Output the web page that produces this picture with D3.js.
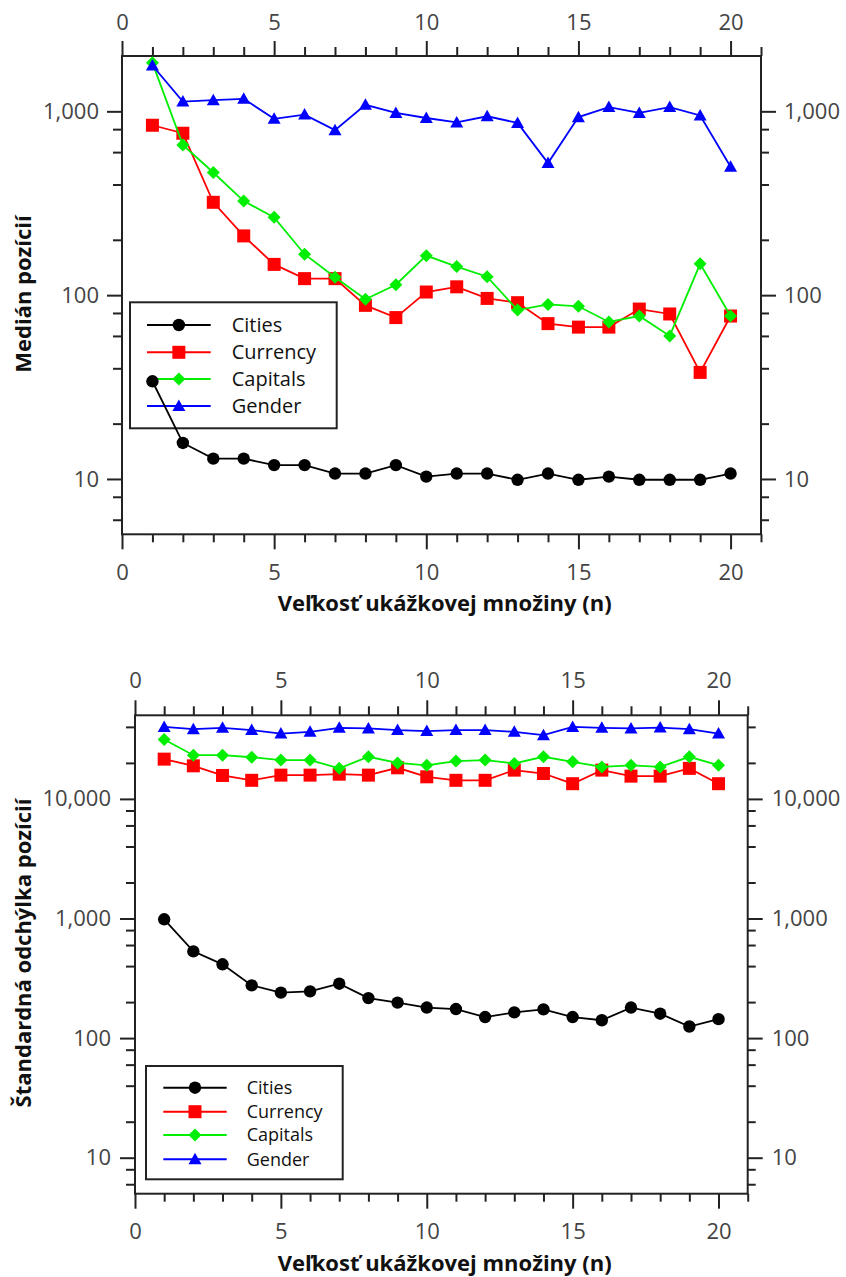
<!DOCTYPE html>
<html>
<head>
<meta charset="utf-8">
<script src="https://cdn.jsdelivr.net/npm/d3@7"></script>
<style>
  body { margin: 0; background: #fff; }
  svg { display: block; font-family: "Open Sans", sans-serif; }
</style>
</head>
<body>
<script>
// sample size n
const n = d3.range(1, 21)

const series = ['Cities', 'Currency', 'Capitals', 'Gender']
const colors = ['#000000', '#ff0000', '#00ee00', '#0000ff']
const shapes = ['circle', 'square', 'diamond', 'triangle']

// median position (top chart)
const medCities = [34, 15.7, 12.9, 12.9, 11.9, 11.9, 10.7, 10.7, 11.9, 10.3, 10.7, 10.7, 9.9, 10.7, 9.9, 10.3, 9.9, 9.9, 9.9, 10.7]
const medCurrency = [840, 760, 320, 210, 147, 123, 123, 88, 75.5, 104, 111, 96, 91, 70, 67, 67, 84, 79, 38, 77]
const medCapitals = [1835, 656, 465, 325, 265, 167, 125, 95, 114, 164, 143, 126, 83, 89, 87, 71.5, 77, 60, 148, 77]
const medGender = [1775, 1130, 1150, 1170, 910, 960, 790, 1085, 980, 920, 870, 940, 865, 523, 930, 1055, 980, 1055, 950, 500]

// standard deviation of position (bottom chart)
const sdCities = [985, 531, 414, 276, 240, 246, 285, 216, 198, 180, 175, 150, 164, 174, 150, 141, 180, 160, 125, 144]
const sdCurrency = [21500, 18900, 15700, 14300, 15800, 15800, 16100, 15800, 18200, 15300, 14300, 14300, 17400, 16300, 13400, 17400, 15500, 15500, 18000, 13400]
const sdCapitals = [31400, 23200, 23200, 22300, 21100, 21100, 18000, 22500, 20000, 19100, 20700, 21100, 19800, 22500, 20400, 18500, 19100, 18500, 22500, 19100]
const sdGender = [40000, 38300, 39300, 37600, 35200, 36400, 39300, 38800, 37600, 36900, 37600, 37600, 36400, 34100, 40000, 39300, 38800, 39500, 38300, 35200]

const xMajor = [0, 5, 10, 15, 20]
const xMinor = d3.range(1, 22).filter(d => d % 5 !== 0)

const svg = d3.select('body').append('svg')
    .attr('width', 846)
    .attr('height', 1277)

function marker(sel, shape, color) {
    if (shape === 'circle') {
        sel.append('circle').attr('r', 6.2).attr('fill', color)
    } else if (shape === 'square') {
        sel.append('rect').attr('x', -6.5).attr('y', -6.5).attr('width', 13).attr('height', 13).attr('fill', color)
    } else if (shape === 'diamond') {
        sel.append('path').attr('d', 'M0,-6.5L6.5,0L0,6.5L-6.5,0Z').attr('fill', color)
    } else {
        sel.append('path').attr('d', 'M0,-6.5L6.5,5L-6.5,5Z').attr('fill', color)
    }
}

function panel(opt) {
    const x = d3.scaleLinear().domain([0, 21]).range([opt.left, opt.right])
    const y = d3.scaleLog().domain(opt.yDomain).range([opt.bottom, opt.top])

    // minor log ticks at 2,4,6,8 per decade
    const yMinor = []
    for (let p = 0; p < 6; p++) {
        [2, 4, 6, 8].forEach(k => {
            const v = k * Math.pow(10, p)
            if (v > opt.yDomain[0] && v < opt.yDomain[1]) yMinor.push(v)
        })
    }

    const g = svg.append('g')

    function ax(axis, tr, vals, size, pad, fmt) {
        const a = g.append('g')
            .attr('transform', tr)
            .call(axis.tickValues(vals).tickSize(size).tickPadding(pad).tickFormat(fmt))
        a.select('.domain').remove()
        a.selectAll('line').attr('stroke', '#222').attr('stroke-width', 2)
        a.selectAll('text').attr('font-size', 22).attr('fill', '#444').attr('font-family', '"Open Sans", sans-serif')
        return a
    }
    const fmt = d3.format(',')
    const none = () => ''

    ax(d3.axisBottom(x), `translate(0,${opt.bottom})`, xMajor, 15, opt.padB, d3.format('d'))
    ax(d3.axisBottom(x), `translate(0,${opt.bottom})`, xMinor, 8, 0, none)
    ax(d3.axisTop(x), `translate(0,${opt.top})`, xMajor, 15, opt.padT, d3.format('d'))
    ax(d3.axisTop(x), `translate(0,${opt.top})`, xMinor, 9, 0, none)
    ax(d3.axisLeft(y), `translate(${opt.left},0)`, opt.yMajor, 15, opt.padY, fmt)
    ax(d3.axisLeft(y), `translate(${opt.left},0)`, yMinor, 9, 0, none)
    ax(d3.axisRight(y), `translate(${opt.right},0)`, opt.yMajor, 15, opt.padY, fmt)
    ax(d3.axisRight(y), `translate(${opt.right},0)`, yMinor, 8, 0, none)

    g.append('rect')
        .attr('x', opt.left).attr('y', opt.top)
        .attr('width', opt.right - opt.left).attr('height', opt.bottom - opt.top)
        .attr('fill', 'none').attr('stroke', '#222').attr('stroke-width', 2)

    // axis titles
    g.append('text')
        .attr('x', opt.xTitle[0]).attr('y', opt.xTitle[1])
        .attr('text-anchor', 'middle')
        .attr('font-size', 22).attr('font-weight', 'bold').attr('fill', '#111')
        .text('Veľkosť ukážkovej množiny (n)')
    g.append('text')
        .attr('transform', `translate(${opt.yTitle[0]},${opt.yTitle[1]}) rotate(-90)`)
        .attr('text-anchor', 'middle')
        .attr('font-size', 22).attr('font-weight', 'bold').attr('fill', '#111')
        .text(opt.yLabel)

    // legend (under the data)
    const L = opt.legend
    const lg = g.append('g')
    lg.append('rect')
        .attr('x', L.x0).attr('y', L.y0).attr('width', L.x1 - L.x0).attr('height', L.y1 - L.y0)
        .attr('fill', 'none').attr('stroke', '#222').attr('stroke-width', 2)
    series.forEach((s, i) => {
        const ry = L.rows[i]
        lg.append('line')
            .attr('x1', L.lx0).attr('x2', L.lx1).attr('y1', ry).attr('y2', ry)
            .attr('stroke', colors[i]).attr('stroke-width', 2)
        marker(lg.append('g').attr('transform', `translate(${(L.lx0 + L.lx1) / 2},${ry})`), shapes[i], colors[i])
        lg.append('text')
            .attr('x', L.tx).attr('y', ry).attr('dy', '0.35em')
            .attr('font-size', L.fs).attr('fill', '#111')
            .text(s)
    })

    // data
    const line = d3.line().x((d, i) => x(n[i])).y(d => y(d))
    opt.data.forEach((vals, i) => {
        g.append('path')
            .attr('d', line(vals))
            .attr('fill', 'none').attr('stroke', colors[i]).attr('stroke-width', 1.8)
        g.selectAll(null)
            .data(vals)
            .enter()
            .append('g')
                .attr('transform', (d, j) => `translate(${x(n[j])},${y(d)})`)
                .each(function() { marker(d3.select(this), shapes[i], colors[i]) })
    })
}

panel({
    left: 122, right: 761, top: 56, bottom: 534.3,
    yDomain: [5, 2000], yMajor: [10, 100, 1000],
    padT: 11, padB: 15, padY: 8,
    xTitle: [444.7, 611], yTitle: [31, 294], yLabel: 'Medián pozícií',
    legend: { x0: 130, y0: 302.3, x1: 336.7, y1: 428.3, rows: [325, 352.3, 379, 406], lx0: 147, lx1: 210.7, tx: 231.7, fs: 20 },
    data: [medCities, medCurrency, medCapitals, medGender]
})

panel({
    left: 135, right: 747.7, top: 715.3, bottom: 1193.7,
    yDomain: [5, 50000], yMajor: [10, 100, 1000, 10000],
    padT: 12, padB: 14.5, padY: 9,
    xTitle: [444.7, 1271], yTitle: [31, 953], yLabel: 'Štandardná odchýlka pozícií',
    legend: { x0: 146, y0: 1066, x1: 342.7, y1: 1179.3, rows: [1087.7, 1111.7, 1135, 1159.3], lx0: 163.3, lx1: 226.7, tx: 246.7, fs: 18 },
    data: [sdCities, sdCurrency, sdCapitals, sdGender]
})
</script>
</body>
</html>
